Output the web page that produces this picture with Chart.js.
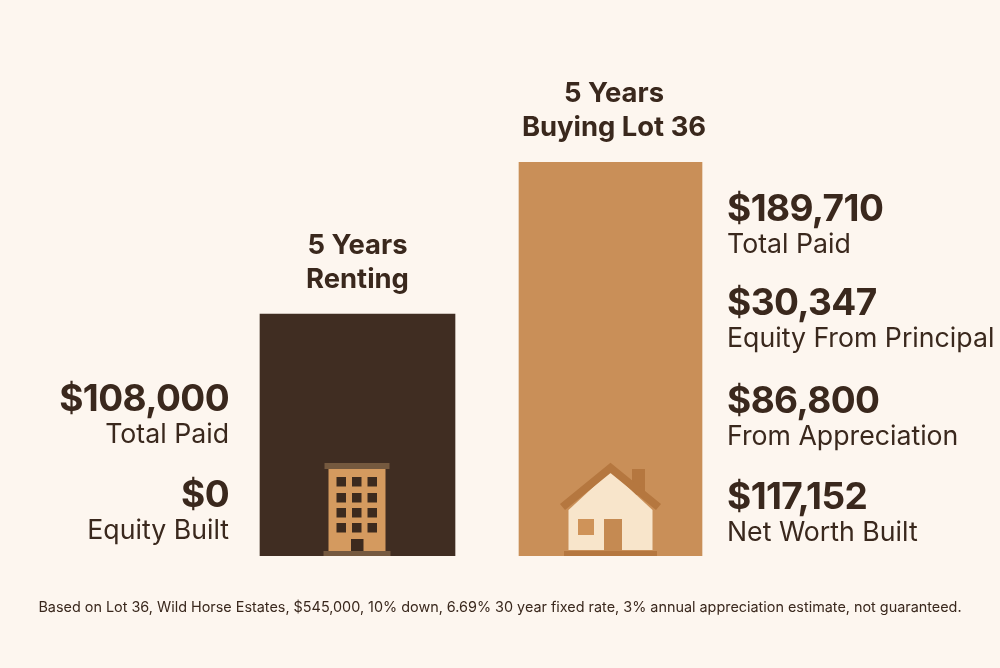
<!DOCTYPE html>
<html>
<head>
<meta charset="utf-8">
<title>5 Years Renting vs Buying Lot 36</title>
<script src="https://cdn.jsdelivr.net/npm/chart.js@4/dist/chart.umd.min.js"></script>
<style>
    html, body { margin: 0; padding: 0; background: #fdf6ef; }
    #wrap { width: 1000px; height: 668px; }
</style>
</head>
<body>
<div id="wrap"><canvas id="chart" width="1000" height="668"></canvas></div>
<script>
const categories = [['5 Years', 'Renting'], ['5 Years', 'Buying Lot 36']];
// bar heights as drawn, the picture does not scale them exactly to total paid
const rentBar = [116500, null];
const buyBar = [null, 189710];

const rentFigures = ['$108,000', '$0'];
const rentLabels = ['Total Paid', 'Equity Built'];
const buyFigures = ['$189,710', '$30,347', '$86,800', '$117,152'];
const buyLabels = ['Total Paid', 'Equity From Principal', 'From Appreciation', 'Net Worth Built'];
const footnote = 'Based on Lot 36, Wild Horse Estates, $545,000, 10% down, 6.69% 30 year fixed rate, 3% annual appreciation estimate, not guaranteed.';

const ink = '#3a281d';
const fontName = 'Inter, "Noto Sans", sans-serif';
const figureFont = '700 37px ' + fontName;
const labelFont = '400 26.7px ' + fontName;

function rect(ctx, color, x, y, w, h) {
    ctx.fillStyle = color;
    ctx.fillRect(x, y, w, h);
}

// small building at the foot of the renting bar
function drawBuilding(ctx, cx, base) {
    const brown = '#75593f';
    rect(ctx, brown, cx - 33, base - 93, 65, 6);
    rect(ctx, '#d49a5f', cx - 29, base - 87, 57, 82);
    rect(ctx, brown, cx - 34, base - 5, 67, 5);
    [-21, -5.5, 10].forEach(function (dx) {
        [-79, -63, -48, -33].forEach(function (dy) {
            rect(ctx, '#3c2a1e', cx + dx, base + dy, 9.5, 9.5);
        });
    });
    rect(ctx, '#3c2a1e', cx - 6.5, base - 17, 12.5, 12);
}

// small house at the foot of the buying bar
function drawHouse(ctx, cx, base) {
    const roof = '#b5773f';
    rect(ctx, roof, cx + 21.5, base - 87, 13, 26);
    ctx.fillStyle = '#f8e5cb';
    ctx.beginPath();
    ctx.moveTo(cx - 42, base - 46);
    ctx.lineTo(cx, base - 85);
    ctx.lineTo(cx + 42, base - 46);
    ctx.lineTo(cx + 42, base - 6);
    ctx.lineTo(cx - 42, base - 6);
    ctx.closePath();
    ctx.fill();
    ctx.strokeStyle = roof;
    ctx.lineWidth = 8;
    ctx.lineJoin = 'miter';
    ctx.beginPath();
    ctx.moveTo(cx - 48, base - 49);
    ctx.lineTo(cx, base - 88);
    ctx.lineTo(cx + 48, base - 49);
    ctx.stroke();
    rect(ctx, '#cf9359', cx - 32.5, base - 37, 16, 16);
    rect(ctx, '#c58a52', cx - 6.5, base - 37, 18, 32);
    rect(ctx, roof, cx - 46.5, base - 5, 93, 5);
}

const textPlugin = {
    id: 'textPlugin',
    afterDatasetsDraw(chart) {
        const ctx = chart.ctx;
        const rent = chart.getDatasetMeta(0).data[0];
        const buy = chart.getDatasetMeta(1).data[1];
        const rentLeft = rent.x - rent.width / 2;
        const buyRight = buy.x + buy.width / 2;
        const buyOffsets = [59, 153, 251, 347];

        drawBuilding(ctx, rent.x, rent.base);
        drawHouse(ctx, buy.x, buy.base);

        ctx.save();
        ctx.fillStyle = ink;
        ctx.textBaseline = 'alphabetic';

        // titles above the bars
        ctx.textAlign = 'center';
        ctx.font = '700 27.4px ' + fontName;
        categories[0].forEach(function (line, i) {
            ctx.fillText(line, rent.x, rent.y - 60 + i * 34);
        });
        categories[1].forEach(function (line, i) {
            ctx.fillText(line, buy.x + 3.5, buy.y - 60 + i * 34);
        });

        // renting figures, left of the bar
        ctx.textAlign = 'right';
        rentFigures.forEach(function (fig, i) {
            const y = rent.base - 145 + i * 96;
            ctx.font = figureFont;
            ctx.letterSpacing = '-0.6px';
            ctx.fillText(fig, rentLeft - 31, y);
            ctx.font = labelFont;
            ctx.letterSpacing = '0px';
            ctx.fillText(rentLabels[i], rentLeft - 31, y + 32);
        });

        // buying figures, right of the bar
        ctx.textAlign = 'left';
        buyFigures.forEach(function (fig, i) {
            const y = buy.y + buyOffsets[i];
            ctx.font = figureFont;
            ctx.letterSpacing = '-0.6px';
            ctx.fillText(fig, buyRight + 25, y);
            ctx.font = labelFont;
            ctx.letterSpacing = '0px';
            ctx.fillText(buyLabels[i], buyRight + 25, y + 32);
        });

        ctx.textAlign = 'center';
        ctx.font = '400 14.4px ' + fontName;
        ctx.fillText(footnote, chart.width / 2, 612);
        ctx.restore();
    },
};

new Chart(document.getElementById('chart'), {
    type: 'bar',
    data: {
        labels: categories,
        datasets: [
            { data: rentBar, backgroundColor: '#402d22', barThickness: 195 },
            { data: buyBar, backgroundColor: '#c98f58', barThickness: 183 },
        ],
    },
    options: {
        responsive: false,
        animation: false,
        layout: { padding: { left: 231, right: 263, top: 162, bottom: 112 } },
        plugins: { legend: { display: false }, tooltip: { enabled: false } },
        scales: {
            x: { display: false, stacked: true },
            y: { display: false, stacked: true, beginAtZero: true, min: 0, max: 189710 },
        },
    },
    plugins: [textPlugin],
});
</script>
</body>
</html>
